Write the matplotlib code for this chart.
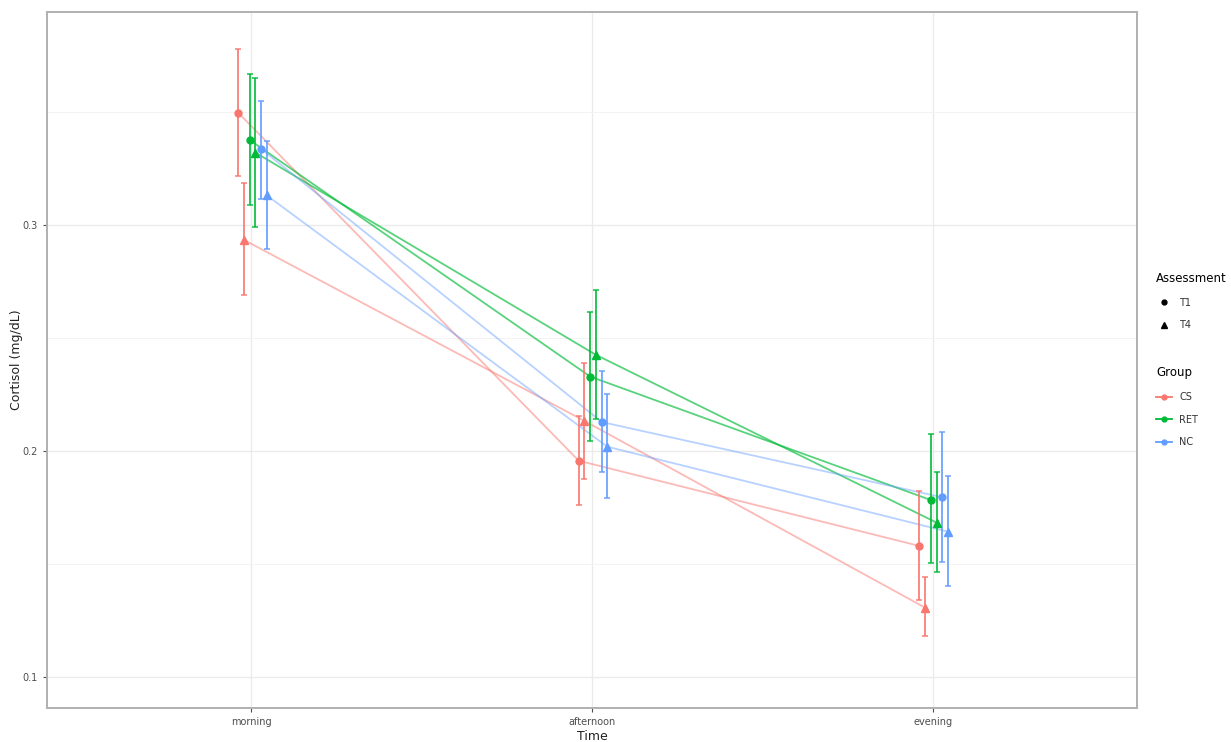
import matplotlib.pyplot as plt
from matplotlib.lines import Line2D
import numpy as np

# data
times = ['morning', 'afternoon', 'evening']
groups = ['CS', 'RET', 'NC']
assessments = ['T1', 'T4']
colors = {'CS': '#F8766D', 'RET': '#00BA38', 'NC': '#619CFF'}
markers = {'T1': 'o', 'T4': '^'}
msize = {'T1': 5, 'T4': 6}

cs_t1 = [0.3497, 0.1957, 0.1580]
cs_t1_lo = [0.3218, 0.1761, 0.1341]
cs_t1_hi = [0.3777, 0.2156, 0.1823]
cs_t4 = [0.2934, 0.2133, 0.1307]
cs_t4_lo = [0.2690, 0.1876, 0.1181]
cs_t4_hi = [0.3185, 0.2391, 0.1441]

ret_t1 = [0.3376, 0.2329, 0.1783]
ret_t1_lo = [0.3088, 0.2046, 0.1503]
ret_t1_hi = [0.3667, 0.2615, 0.2074]
ret_t4 = [0.3320, 0.2425, 0.1683]
ret_t4_lo = [0.2992, 0.2142, 0.1466]
ret_t4_hi = [0.3649, 0.2712, 0.1906]

nc_t1 = [0.3336, 0.2128, 0.1795]
nc_t1_lo = [0.3115, 0.1906, 0.1510]
nc_t1_hi = [0.3547, 0.2353, 0.2083]
nc_t4 = [0.3131, 0.2019, 0.1643]
nc_t4_lo = [0.2892, 0.1791, 0.1404]
nc_t4_hi = [0.3372, 0.2252, 0.1889]

series = [
    ('CS', 'T1', cs_t1, cs_t1_lo, cs_t1_hi),
    ('CS', 'T4', cs_t4, cs_t4_lo, cs_t4_hi),
    ('RET', 'T1', ret_t1, ret_t1_lo, ret_t1_hi),
    ('RET', 'T4', ret_t4, ret_t4_lo, ret_t4_hi),
    ('NC', 'T1', nc_t1, nc_t1_lo, nc_t1_hi),
    ('NC', 'T4', nc_t4, nc_t4_lo, nc_t4_hi),
]
# dodge offsets (x units)
dodge = [-0.039, -0.022, -0.005, 0.012, 0.029, 0.045]
line_alpha = {'CS': 0.5, 'RET': 0.65, 'NC': 0.45}

fig = plt.figure(figsize=(12.31, 7.42), dpi=100)
ax = fig.add_axes([0.0382, 0.0458, 0.8854, 0.938])

x = np.arange(1, len(times) + 1)
for (g, a, m, lo, hi), d in zip(series, dodge):
    xs = x + d
    m = np.array(m)
    err = [m - np.array(lo), np.array(hi) - m]
    ax.plot(xs, m, color=colors[g], lw=1.3, alpha=line_alpha[g], zorder=3)
    ax.errorbar(xs, m, yerr=err, fmt='none', ecolor=colors[g], elinewidth=1.4,
                capsize=2.5, capthick=1.2, alpha=0.85, zorder=4)
    ax.plot(xs, m, ls='none', marker=markers[a], ms=msize[a], color=colors[g], zorder=5)

ax.set_xlim(0.4, 3.6)
ax.set_ylim(0.0863, 0.3942)
ax.set_xticks(x)
ax.set_xticklabels(times)
ax.set_yticks([0.1, 0.2, 0.3])
ax.set_yticklabels(['0.1', '0.2', '0.3'])
ax.set_yticks([0.15, 0.25, 0.35], minor=True)
ax.tick_params(axis='both', which='major', labelsize=7, colors='#4d4d4d', length=3, width=0.8)
ax.tick_params(axis='y', which='minor', length=0)
ax.grid(which='major', color='#ebebeb', lw=1.0)
ax.grid(which='minor', axis='y', color='#f3f3f3', lw=0.7)
ax.set_axisbelow(True)
for s in ax.spines.values():
    s.set_color('#b0b0b0')
    s.set_linewidth(1.4)
ax.set_xlabel('Time', fontsize=9, color='#222222', labelpad=2)
ax.set_ylabel('Cortisol (mg/dL)', fontsize=9, color='#222222')
ax.yaxis.set_label_coords(-0.022, 0.5)

# legends
h_assess = [Line2D([], [], ls='none', marker=markers[a], color='black', ms=msize[a] - 1.5) for a in assessments]
h_group = [Line2D([], [], color=colors[g], marker='o', ms=3.5, lw=1.3) for g in groups]
leg1 = fig.legend(h_assess, assessments, title='Assessment', loc='upper left',
                  bbox_to_anchor=(0.932, 0.645), frameon=False, fontsize=7,
                  title_fontsize=8.5, handlelength=1.6, labelspacing=1.3, alignment='left')
leg2 = fig.legend(h_group, groups, title='Group', loc='upper left',
                  bbox_to_anchor=(0.932, 0.518), frameon=False, fontsize=7,
                  title_fontsize=8.5, handlelength=1.6, labelspacing=1.3, alignment='left')
for leg in (leg1, leg2):
    for t in leg.get_texts():
        t.set_color('#333333')

fig.savefig('out.png', dpi=100)
